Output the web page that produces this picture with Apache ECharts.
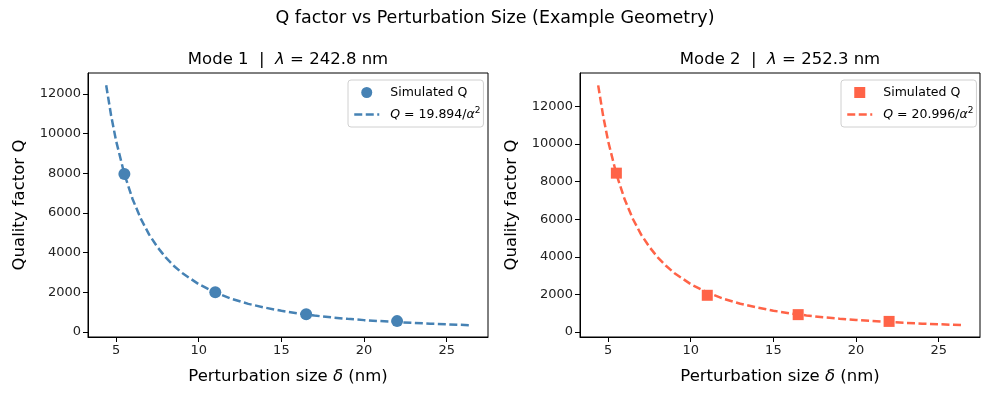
<!DOCTYPE html>
<html>
<head>
<meta charset="utf-8">
<script src="https://cdn.jsdelivr.net/npm/echarts@6/dist/echarts.min.js"></script>
<style>
  html, body { margin: 0; padding: 0; background: #fff; }
  #chart { width: 990px; height: 396px; }
</style>
</head>
<body>
<div id="chart"></div>
<script>
// simulated points
var simDelta = [5.5, 11, 16.5, 22];
var simQ1 = [7960, 2000, 900, 550];
var simQ2 = [8450, 1950, 920, 560];

// fitted curve
var fitDelta = [4.4, 4.7, 5, 5.5, 6, 6.5, 7, 7.5, 8, 8.5, 9, 10, 11, 12, 13, 14, 15, 16, 17, 18, 19, 20, 22, 24, 26.4];
var fitQ1 = [12430, 10900, 9630, 7960, 6690, 5700, 4910, 4280, 3760, 3330, 2970, 2410, 1990, 1670, 1420, 1230, 1070, 940, 830, 740, 665, 600, 500, 420, 345];
var fitQ2 = [13120, 11500, 10160, 8400, 7060, 6010, 5180, 4520, 3970, 3520, 3140, 2540, 2100, 1760, 1500, 1300, 1130, 990, 880, 780, 705, 635, 525, 440, 365];

var xTicks = [5, 10, 15, 20, 25];
var yTicks = [0, 2000, 4000, 6000, 8000, 10000, 12000];

var FONT = 'DejaVu Sans';
var BLUE = '#4682B4';
var RED = '#FF6347';

function pairs(xs, ys) {
    var out = [];
    for (var i = 0; i < xs.length; i++) {
        out.push([xs[i], ys[i]]);
    }
    return out;
}

function xAxisCfg(idx) {
    return {
        type: 'value',
        gridIndex: idx,
        min: 3.3,
        max: 27.5,
        name: 'Perturbation size {i|δ} (nm)',
        nameLocation: 'middle',
        nameGap: 31,
        nameTextStyle: {
            fontFamily: FONT, fontSize: 16.5, color: '#000',
            rich: { i: { fontFamily: FONT, fontSize: 16.5, fontStyle: 'italic', color: '#000' } }
        },
        axisLine: { show: true, onZero: false, lineStyle: { color: '#000', width: 1 } },
        axisTick: { show: true, length: 5, lineStyle: { color: '#000' }, customValues: xTicks },
        axisLabel: {
            fontFamily: FONT, fontSize: 13, color: '#222', margin: 7, customValues: xTicks,
            formatter: function(v) { return String(v); }
        },
        splitLine: { show: false }
    };
}

function yAxisCfg(idx, min, max) {
    return {
        type: 'value',
        gridIndex: idx,
        min: min,
        max: max,
        name: 'Quality factor Q',
        nameLocation: 'middle',
        nameGap: 60,
        nameTextStyle: { fontFamily: FONT, fontSize: 16.5, color: '#000' },
        axisLine: { show: true, onZero: false, lineStyle: { color: '#000', width: 1 } },
        axisTick: { show: true, length: 5, lineStyle: { color: '#000' }, customValues: yTicks },
        axisLabel: {
            fontFamily: FONT, fontSize: 13, color: '#222', margin: 7, customValues: yTicks,
            formatter: function(v) { return String(v); }
        },
        splitLine: { show: false }
    };
}

function legendCfg(left, simName, simIcon, fitName, color, coef) {
    return {
        orient: 'vertical',
        left: left,
        top: 80,
        data: [
            { name: simName, icon: simIcon },
            {
                name: fitName,
                itemStyle: { color: 'rgba(0,0,0,0)', borderWidth: 0 },
                lineStyle: { color: color, width: 2.5, type: [8, 3.5] }
            }
        ],
        itemWidth: 25,
        itemHeight: 11,
        itemGap: 7,
        symbolKeepAspect: true,
        padding: [6, 3, 6, 5],
        backgroundColor: '#fff',
        borderColor: '#d0d0d0',
        borderWidth: 1,
        borderRadius: 3,
        selectedMode: false,
        formatter: function(name) {
            if (name.indexOf('Sim') === 0) return 'Simulated Q';
            return '{i|Q} = ' + coef + '/{i|α}{sup|2}';
        },
        textStyle: {
            fontFamily: FONT, fontSize: 12.5, color: '#000', padding: [0, 0, 0, 6],
            rich: {
                i: { fontFamily: FONT, fontSize: 12.5, fontStyle: 'italic', color: '#000' },
                sup: { fontFamily: FONT, fontSize: 9, color: '#000', verticalAlign: 'bottom', padding: [0, 0, 8, 0] }
            }
        }
    };
}

var chart = echarts.init(document.getElementById('chart'));

var option = {
    animation: false,
    backgroundColor: '#fff',
    graphic: [
        {
            type: 'text', x: 495, y: 18,
            style: { text: 'Q factor vs Perturbation Size (Example Geometry)', fontFamily: FONT, fontSize: 17.5, fill: '#000', align: 'center', verticalAlign: 'middle' }
        },
        {
            type: 'text', x: 288, y: 60,
            style: {
                text: 'Mode 1  |  {i|λ} = 242.8 nm', fontFamily: FONT, fontSize: 16.5, fill: '#000', align: 'center', verticalAlign: 'middle',
                rich: { i: { fontFamily: FONT, fontSize: 16.5, fontStyle: 'italic', fill: '#000' } }
            }
        },
        {
            type: 'text', x: 780, y: 60,
            style: {
                text: 'Mode 2  |  {i|λ} = 252.3 nm', fontFamily: FONT, fontSize: 16.5, fill: '#000', align: 'center', verticalAlign: 'middle',
                rich: { i: { fontFamily: FONT, fontSize: 16.5, fontStyle: 'italic', fill: '#000' } }
            }
        }
    ],
    grid: [
        { left: 88, top: 73, width: 400, height: 264, show: true, borderColor: '#000', borderWidth: 1, backgroundColor: 'transparent' },
        { left: 580, top: 73, width: 400, height: 264, show: true, borderColor: '#000', borderWidth: 1, backgroundColor: 'transparent' }
    ],
    xAxis: [xAxisCfg(0), xAxisCfg(1)],
    yAxis: [yAxisCfg(0, -250, 13050), yAxisCfg(1, -270, 13780)],
    legend: [
        legendCfg(348, 'Sim1', 'circle', 'Fit1', BLUE, '19.894'),
        legendCfg(841, 'Sim2', 'path://M0,0L10,0L10,10L0,10Z', 'Fit2', RED, '20.996')
    ],
    series: [
        {
            name: 'Fit1', type: 'line', xAxisIndex: 0, yAxisIndex: 0,
            data: pairs(fitDelta, fitQ1), symbol: 'none', smooth: false,
            itemStyle: { color: BLUE },
            lineStyle: { color: BLUE, width: 2.5, type: [8, 3.5] }
        },
        {
            name: 'Sim1', type: 'scatter', xAxisIndex: 0, yAxisIndex: 0,
            data: pairs(simDelta, simQ1), symbol: 'circle', symbolSize: 12,
            itemStyle: { color: BLUE, opacity: 1 }, z: 3
        },
        {
            name: 'Fit2', type: 'line', xAxisIndex: 1, yAxisIndex: 1,
            data: pairs(fitDelta, fitQ2), symbol: 'none', smooth: false,
            itemStyle: { color: RED },
            lineStyle: { color: RED, width: 2.5, type: [8, 3.5] }
        },
        {
            name: 'Sim2', type: 'scatter', xAxisIndex: 1, yAxisIndex: 1,
            data: pairs(simDelta, simQ2), symbol: 'rect', symbolSize: 11,
            itemStyle: { color: RED, opacity: 1 }, z: 3
        }
    ]
};

chart.setOption(option);
</script>
</body>
</html>
